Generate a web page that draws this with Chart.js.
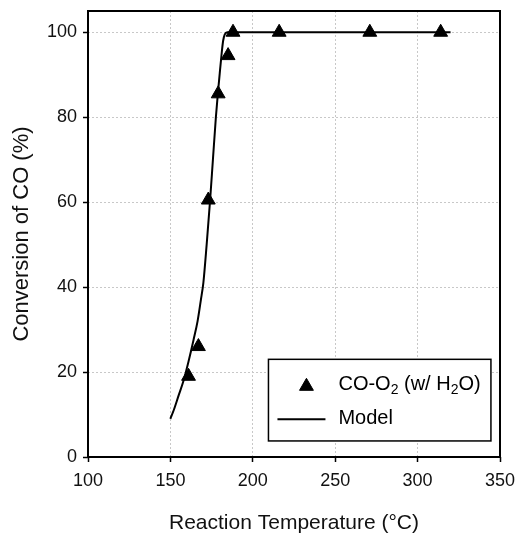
<!DOCTYPE html>
<html><head><meta charset="utf-8">
<script src="https://cdn.jsdelivr.net/npm/chart.js@4/dist/chart.umd.min.js"></script>
<style>html,body{margin:0;padding:0;background:#fff}#wrap{width:530px;height:537px}</style>
</head><body><div id="wrap"><canvas id="c" width="530" height="537"></canvas></div>
<script>
// ---- data ----
const measTemp = [161, 167, 173, 179, 185, 188, 216, 271, 314];
const measConv = [19, 26, 60.5, 85.5, 94.5, 100, 100, 100, 100];
const modelTemp = [150, 152, 155, 158, 161, 164, 166.5, 168.5, 170, 172, 174, 175.8, 177.6, 178.9, 180.1, 181.1, 182, 183, 184.5, 200, 250, 280, 320];
const modelConv = [9, 11, 14.5, 18, 22.5, 27.5, 32, 37, 41, 50, 60, 70, 80, 86, 91, 95, 98, 99.5, 100, 100, 100, 100, 100];
const xTicks = [100, 150, 200, 250, 300, 350];
const yTicks = [0, 20, 40, 60, 80, 100];
const seriesLabels = ['CO-O_2 (w/ H_2O)', 'Model'];
const xTitle = 'Reaction Temperature (°C)';
const yTitle = 'Conversion of CO (%)';

const FONT = '"Liberation Sans", Arial, sans-serif';
const FS = 18;

function drawRichText(ctx, text, x, y, size) {
  // "_" marks a one-character subscript
  let cx = x;
  for (let i = 0; i < text.length; i++) {
    if (text[i] === '_' && i + 1 < text.length) {
      ctx.font = Math.round(size * 0.68) + 'px ' + FONT;
      ctx.fillText(text[i + 1], cx, y + size * 0.3);
      cx += ctx.measureText(text[i + 1]).width;
      i++;
    } else {
      ctx.font = size + 'px ' + FONT;
      ctx.fillText(text[i], cx, y);
      cx += ctx.measureText(text[i]).width;
    }
  }
}

function triangle(ctx, x, y, r) {
  ctx.beginPath();
  ctx.moveTo(x, y - r);
  ctx.lineTo(x + r * Math.sin(Math.PI * 2 / 3), y + r / 2);
  ctx.lineTo(x - r * Math.sin(Math.PI * 2 / 3), y + r / 2);
  ctx.closePath();
  ctx.fill();
  ctx.stroke();
}

const framePlugin = {
  id: 'frame',
  beforeDatasetsDraw(chart) {
    const { ctx, chartArea: a } = chart;
    ctx.save();
    ctx.strokeStyle = '#000';
    ctx.lineWidth = 2;
    ctx.strokeRect(a.left, a.top, a.right - a.left, a.bottom - a.top);
    ctx.restore();
  }
};

const legendPlugin = {
  id: 'boxLegend',
  afterDatasetsDraw(chart) {
    const { ctx, chartArea: a } = chart;
    const w = a.right - a.left, h = a.bottom - a.top;
    const bx = a.left + w * 0.438, by = a.top + h * 0.781;
    const bw = w * 0.540, bh = h * 0.183;
    ctx.save();
    ctx.fillStyle = '#fff';
    ctx.fillRect(bx, by, bw, bh);
    ctx.strokeStyle = '#000';
    ctx.lineWidth = 1.5;
    ctx.strokeRect(bx, by, bw, bh);
    // row 1: triangle marker
    ctx.fillStyle = '#000';
    ctx.lineWidth = 1;
    triangle(ctx, bx + 38, by + 27, 8);
    ctx.textBaseline = 'middle';
    ctx.textAlign = 'left';
    drawRichText(ctx, seriesLabels[0], bx + 70, by + 25, 20);
    // row 2: line sample
    ctx.lineWidth = 2;
    ctx.beginPath();
    ctx.moveTo(bx + 9, by + 60);
    ctx.lineTo(bx + 57, by + 60);
    ctx.stroke();
    drawRichText(ctx, seriesLabels[1], bx + 70, by + 59, 20);
    ctx.restore();
  }
};

new Chart(document.getElementById('c'), {
  type: 'scatter',
  data: {
    datasets: [
      {
        label: seriesLabels[0],
        data: measTemp.map((t, i) => ({ x: t, y: measConv[i] })),
        pointStyle: 'triangle',
        pointRadius: 8,
        pointHoverRadius: 8,
        backgroundColor: '#000',
        borderColor: '#000',
        borderWidth: 1,
        showLine: false,
        order: 0
      },
      {
        label: seriesLabels[1],
        data: modelTemp.map((t, i) => ({ x: t, y: modelConv[i] })),
        showLine: true,
        pointRadius: 0,
        borderColor: '#000',
        borderWidth: 2,
        cubicInterpolationMode: 'monotone',
        fill: false,
        order: 1
      }
    ]
  },
  options: {
    responsive: false,
    animation: false,
    layout: { padding: { top: 11, right: 30, left: 0, bottom: 0 } },
    plugins: { legend: { display: false }, tooltip: { enabled: false } },
    scales: {
      x: {
        type: 'linear', min: 100, max: 350,
        afterBuildTicks: s => { s.ticks = xTicks.map(v => ({ value: v })); },
        afterFit: s => { s.height = 80; s.paddingLeft = 0; s.paddingRight = 0; },
        ticks: { color: '#111', font: { family: FONT, size: FS }, padding: 8, maxRotation: 0 },
        grid: { color: '#c8c8c8', lineWidth: 1, borderDash: [2, 2], tickColor: '#000', tickLength: 5, tickWidth: 1.5, tickBorderDash: [] },
        border: { display: false, dash: [2, 2] },
        title: { display: true, text: xTitle, color: '#111', font: { family: FONT, size: 21 }, padding: { top: 0, bottom: 1 } }
      },
      y: {
        type: 'linear', min: 0, max: 105,
        afterBuildTicks: s => { s.ticks = yTicks.map(v => ({ value: v })); },
        afterFit: s => { s.width = 88; s.paddingTop = 0; s.paddingBottom = 0; },
        ticks: { color: '#111', font: { family: FONT, size: FS }, padding: 6 },
        grid: { color: '#c8c8c8', lineWidth: 1, borderDash: [2, 2], tickColor: '#000', tickLength: 5, tickWidth: 1.5, tickBorderDash: [] },
        border: { display: false, dash: [2, 2] },
        title: { display: true, text: yTitle, color: '#111', font: { family: FONT, size: 22 }, padding: { top: 9, bottom: 0 } }
      }
    }
  },
  plugins: [framePlugin, legendPlugin]
});
</script>
</body></html>
